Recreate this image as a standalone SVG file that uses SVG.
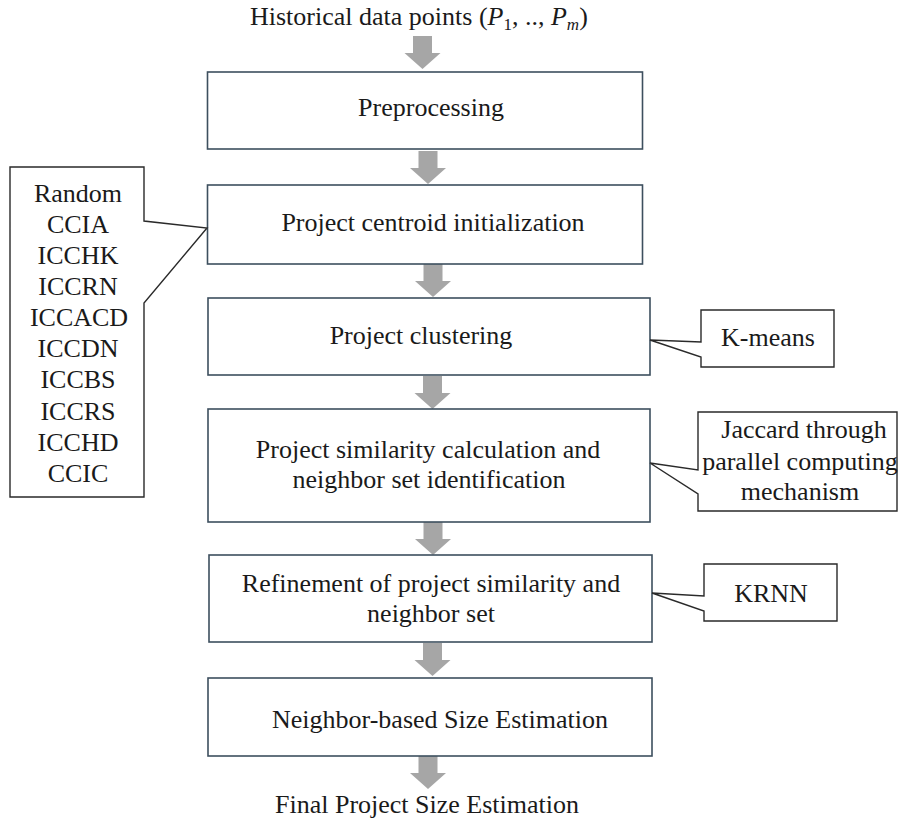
<svg xmlns="http://www.w3.org/2000/svg" xmlns:xlink="http://www.w3.org/1999/xlink" width="908" height="824" viewBox="0 0 908 824">
<style>
  text { font-family: "Liberation Serif", "Times New Roman", serif; font-size: 26px; fill: #1a1a1a; }
  .c { text-anchor: middle; }
  .box { fill: #ffffff; stroke: #3d4f5e; stroke-width: 1.6; }
  .call { fill: #ffffff; stroke: #2a2a2a; stroke-width: 1.4; stroke-linejoin: miter; }
  .arr { fill: #a6a6a6; stroke: none; }
</style>
<defs>
  <path id="blk" d="M-9.5,0 H9.5 V17 H18 L0,33 L-18,17 H-9.5 Z"/>
</defs>
<rect width="908" height="824" fill="#ffffff"/>

<g id="title">
  <text x="250" y="25">Historical data points (<tspan font-style="italic">P</tspan><tspan font-size="17" dy="5">1</tspan><tspan dy="-5">, .., </tspan><tspan font-style="italic">P</tspan><tspan font-size="17" font-style="italic" dy="5">m</tspan><tspan dy="-5">)</tspan></text>
</g>

<g id="connectors" class="arr">
  <use xlink:href="#blk" x="422.5" y="36"/>
  <use xlink:href="#blk" x="428" y="151"/>
  <use xlink:href="#blk" x="433" y="264"/>
  <use xlink:href="#blk" x="432.5" y="376"/>
  <use xlink:href="#blk" x="433" y="522"/>
  <use xlink:href="#blk" x="432.5" y="643"/>
  <use xlink:href="#blk" x="428" y="756"/>
</g>

<g id="preprocessing">
  <rect class="box" x="207.5" y="72" width="435" height="77"/>
  <text class="c" x="431" y="116">Preprocessing</text>
</g>

<g id="centroid-init">
  <rect class="box" x="207.5" y="185" width="435" height="79"/>
  <text class="c" x="433" y="231">Project centroid initialization</text>
</g>

<g id="clustering">
  <rect class="box" x="208" y="298" width="442" height="77"/>
  <text class="c" x="421" y="344">Project clustering</text>
</g>

<g id="similarity">
  <rect class="box" x="208" y="409" width="442" height="113"/>
  <text class="c" x="428" y="458">Project similarity calculation and</text>
  <text class="c" x="429" y="488">neighbor set identification</text>
</g>

<g id="refinement">
  <rect class="box" x="209" y="555" width="443" height="87"/>
  <text class="c" x="431" y="592">Refinement of project similarity and</text>
  <text class="c" x="431" y="622">neighbor set</text>
</g>

<g id="size-estimation">
  <rect class="box" x="208" y="678" width="444" height="78"/>
  <text class="c" x="440" y="728">Neighbor-based Size Estimation</text>
</g>

<g id="final">
  <text class="c" x="427" y="813">Final Project Size Estimation</text>
</g>

<g id="init-methods">
  <path class="call" d="M10,167 H144 V221 L207,228 L144,303 V497 H10 Z"/>
  <text class="c" x="78" y="202">Random</text>
  <text class="c" x="78" y="233">CCIA</text>
  <text class="c" x="78" y="264">ICCHK</text>
  <text class="c" x="78" y="295">ICCRN</text>
  <text class="c" x="79" y="326">ICCACD</text>
  <text class="c" x="78" y="357">ICCDN</text>
  <text class="c" x="78" y="388">ICCBS</text>
  <text class="c" x="78" y="420">ICCRS</text>
  <text class="c" x="78" y="451">ICCHD</text>
  <text class="c" x="78" y="482">CCIC</text>
</g>

<g id="kmeans">
  <path class="call" d="M701,310 H834 V367 H701 V357 L650,340 L701,342 Z"/>
  <text class="c" x="768" y="346">K-means</text>
</g>

<g id="jaccard">
  <path class="call" d="M698,412 H897 V511 H698 V494 L650,463 L698,470 Z"/>
  <text class="c" x="804" y="438">Jaccard through</text>
  <text class="c" x="800" y="470">parallel computing</text>
  <text class="c" x="800" y="500">mechanism</text>
</g>

<g id="krnn">
  <path class="call" d="M704,564 H837 V621 H704 V611 L652,593 L704,596 Z"/>
  <text class="c" x="771" y="602">KRNN</text>
</g>
</svg>
